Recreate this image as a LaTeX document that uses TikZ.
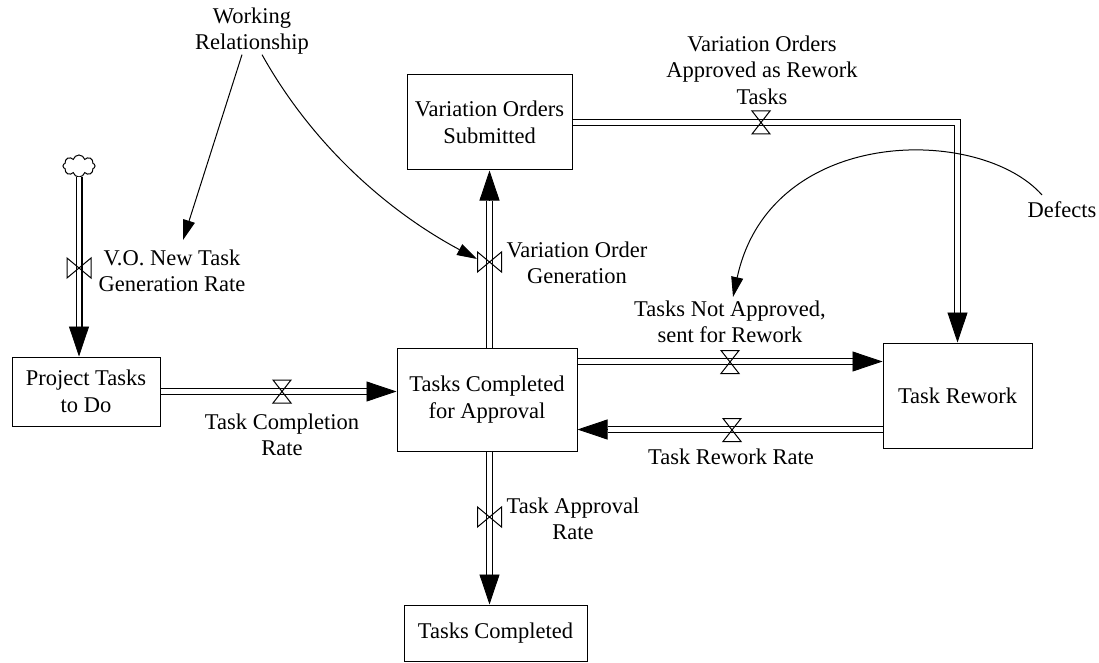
\documentclass[tikz,border=0pt]{standalone}
\usepackage{fontspec}
\setmainfont{Liberation Serif}
\usetikzlibrary{arrows.meta,shapes.symbols,calc}
\begin{document}
\begin{tikzpicture}[x=1pt,y=-1pt,
  font=\fontsize{22.5}{26.5}\selectfont,
  box/.style={draw, line width=1pt, align=center, inner sep=0pt},
  pipe/.style={draw, line width=1.2pt, double=white, double distance=4.6pt},
  head/.style={line width=0.8pt, -{Triangle[length=30pt,width=20pt]}},
  info/.style={draw, line width=1pt, -{Triangle[length=20pt,width=12pt]}},
  lbl/.style={align=center, inner sep=0pt},
  hvalve/.pic={\draw[line width=1pt] (-9,-11.5) -- (9,-11.5) -- (0,0) -- cycle (-9,11.5) -- (9,11.5) -- (0,0) -- cycle;},
  vvalve/.pic={\draw[line width=1pt] (-12,-10) -- (-12,10) -- (0,0) -- cycle (12,-10) -- (12,10) -- (0,0) -- cycle;}]
\useasboundingbox (0,0) rectangle (1099,663);

% stocks
\node[box, minimum width=148pt, minimum height=69pt] (pt) at (86,391.5) {Project Tasks\\to Do};
\node[box, minimum width=180pt, minimum height=103pt] (tca) at (487,399.5) {Tasks Completed\\for Approval};
\node[box, minimum width=165pt, minimum height=95pt] (vos) at (489.5,122.5) {Variation Orders\\Submitted};
\node[box, minimum width=149pt, minimum height=105pt] (tr) at (957.5,395.5) {Task Rework};
\node[box, minimum width=183pt, minimum height=56pt] (tc) at (495.5,633) {Tasks Completed};
\node[cloud, draw, line width=1pt, cloud puffs=8, cloud ignores aspect, minimum width=32pt, minimum height=22pt, inner sep=0pt] (cl) at (79,166) {};

% labels
\node[lbl] (l1) at (172,271) {V.O. New Task\\Generation Rate};
\node[lbl] (l2) at (282,435) {Task Completion\\Rate};
\node[lbl] (l3) at (577,263) {Variation Order\\Generation};
\node[lbl] (l4) at (762,70) {Variation Orders\\Approved as Rework\\Tasks};
\node[lbl] (l5) at (730,322) {Tasks Not Approved,\\sent for Rework};
\node[lbl] (l6) at (731,457) {Task Rework Rate};
\node[lbl] (l7) at (573,519) {Task Approval\\Rate};
\node[lbl] (def) at (1062,210) {Defects};
\node[lbl] (wr) at (252,31) {Working\\Relationship};

% pipe 1: cloud -> project tasks
\coordinate (e1) at (cl |- pt.north);
\draw[pipe] (cl.south) -- ($(e1)+(0,-30)$);
\draw[head] ($(e1)+(0,-30)$) -- (e1);
\pic at (79,268) {vvalve};

% pipe 2: project tasks -> TCA
\coordinate (e2) at (pt.east -| tca.west);
\draw[pipe] (pt.east) -- ($(e2)+(-30,0)$);
\draw[head] ($(e2)+(-30,0)$) -- (e2);
\pic at (282,391.5) {hvalve};

% pipe 3: TCA -> VOS
\coordinate (s3) at (vos.south |- tca.north);
\draw[pipe] (s3) -- ($(vos.south)+(0,30)$);
\draw[head] ($(vos.south)+(0,30)$) -- (vos.south);
\pic at (489.5,262) {vvalve};

% pipe 4: VOS -> Task Rework
\coordinate (c4) at (vos.east -| tr.north);
\draw[pipe, line join=miter] (vos.east) -- (c4) -- ($(tr.north)+(0,-30)$);
\draw[head] ($(tr.north)+(0,-30)$) -- (tr.north);
\pic at (761,122.5) {hvalve};

% pipe 5: TCA -> Task Rework
\coordinate (s5) at ([yshift=-14pt]tca.north east);
\coordinate (e5) at (s5 -| tr.west);
\draw[pipe] (s5) -- ($(e5)+(-30,0)$);
\draw[head] ($(e5)+(-30,0)$) -- (e5);
\pic at (730,362) {hvalve};

% pipe 6: Task Rework -> TCA
\coordinate (e6) at ([yshift=-82pt]tca.north east);
\coordinate (s6) at (e6 -| tr.west);
\draw[pipe] (s6) -- ($(e6)+(30,0)$);
\draw[head] ($(e6)+(30,0)$) -- (e6);
\pic at (732,430) {hvalve};

% pipe 7: TCA -> Tasks Completed
\coordinate (s7) at (vos.south |- tca.south);
\coordinate (e7) at (vos.south |- tc.north);
\draw[pipe] (s7) -- ($(e7)+(0,-30)$);
\draw[head] ($(e7)+(0,-30)$) -- (e7);
\pic at (489.5,517) {vvalve};

% information links
\coordinate (w1) at (183,240);
\coordinate (w2) at (477,259);
\coordinate (d0) at (1042,195);
\coordinate (d1) at (733,297);
\draw[info] ([xshift=-10pt]wr.south) -- (w1);
\draw[info] ([xshift=10pt]wr.south) .. controls (313,146) and (389,212) .. (w2);
\draw[info] (d0) .. controls (980,125) and (770,125) .. (d1);
\end{tikzpicture}
\end{document}
